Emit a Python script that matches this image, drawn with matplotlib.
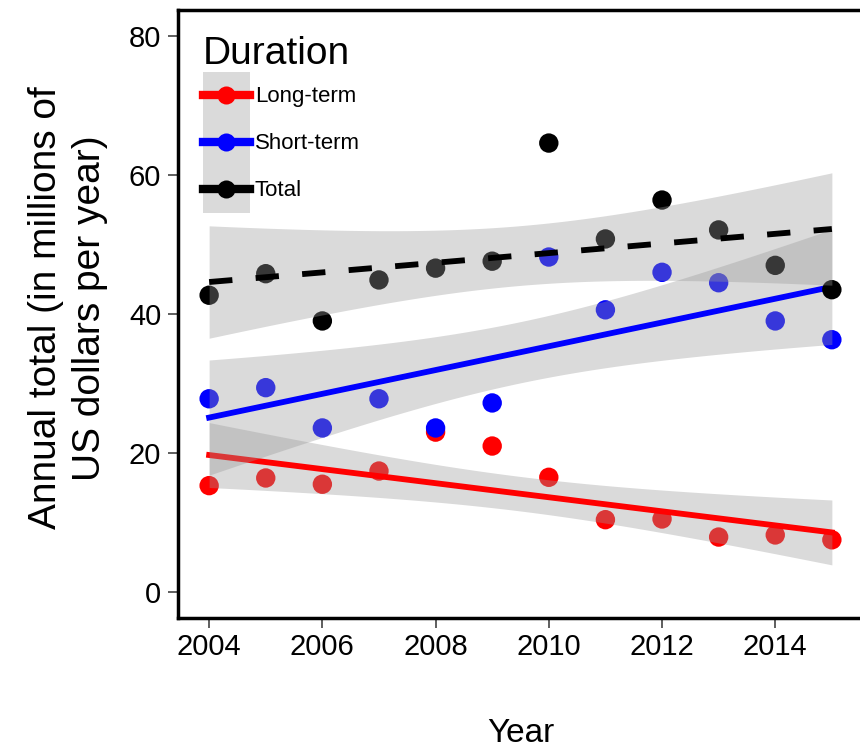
import numpy as np
import matplotlib.pyplot as plt
from matplotlib.lines import Line2D
from matplotlib.patches import Patch
from matplotlib.legend_handler import HandlerTuple, HandlerLine2D

plt.rcParams['font.family'] = ['Liberation Sans', 'DejaVu Sans']

years = [2004, 2005, 2006, 2007, 2008, 2009, 2010, 2011, 2012, 2013, 2014, 2015]
long_term = [15.3, 16.4, 15.5, 17.4, 23.0, 21.0, 16.5, 10.4, 10.5, 7.9, 8.2, 7.5]
short_term = [27.8, 29.4, 23.6, 27.8, 23.6, 27.2, 48.2, 40.6, 46.0, 44.5, 39.0, 36.3]
total = [42.7, 45.8, 39.0, 44.9, 46.6, 47.6, 64.6, 50.8, 56.4, 52.1, 47.0, 43.5]

groups = ["Long-term", "Short-term", "Total"]
colors = ["#FF0000", "#0000FF", "#000000"]
styles = ["-", "-", (0, (4, 4))]
series = [long_term, short_term, total]

T_CRIT = 2.228  # t(0.975, df=10)


def lm_band(x, y, xs):
    x = np.asarray(x, float)
    y = np.asarray(y, float)
    b, a = np.polyfit(x, y, 1)
    n = len(x)
    resid = y - (a + b * x)
    s = np.sqrt(np.sum(resid ** 2) / (n - 2))
    sxx = np.sum((x - x.mean()) ** 2)
    fit = a + b * xs
    se = s * np.sqrt(1 / n + (xs - x.mean()) ** 2 / sxx)
    return fit, fit - T_CRIT * se, fit + T_CRIT * se


class CenteredLine(HandlerLine2D):
    # put the line/marker in the middle of the key box
    def create_artists(self, legend, orig_handle, xdescent, ydescent,
                       width, height, fontsize, trans):
        return super().create_artists(legend, orig_handle, xdescent, ydescent,
                                      width, height - ydescent, fontsize, trans)


fig = plt.figure(figsize=(8.6, 7.51), dpi=100)
ax = fig.add_axes([178 / 860, 133 / 751, 685 / 860, 608 / 751])

xs = np.linspace(years[0], years[-1], 100)

# long/short points, then their smoothers, then total points + smoother
for ys, col in zip(series[:2], colors[:2]):
    ax.scatter(years, ys, s=195, color=col, edgecolors="none", zorder=2)

for i, (ys, col, ls) in enumerate(zip(series, colors, styles)):
    if i == 2:
        ax.scatter(years, ys, s=195, color=col, edgecolors="none", zorder=2)
    fit, lo, hi = lm_band(years, ys, xs)
    ax.fill_between(xs, lo, hi, color="#999999", alpha=0.36, linewidth=0, zorder=2)
    ax.plot(xs, fit, color=col, linestyle=ls, linewidth=4.2, zorder=2)

ax.set_xlim(2003.45, 2015.55)
ax.set_ylim(-3.75, 83.75)
ax.set_xticks([2004, 2006, 2008, 2010, 2012, 2014])
ax.set_yticks([0, 20, 40, 60, 80])

for sp in ax.spines.values():
    sp.set_linewidth(2.5)
ax.tick_params(axis="both", length=7, width=1.1, color="#333333",
               labelsize=21, labelcolor="black")
ax.tick_params(axis="x", pad=3.5)
ax.tick_params(axis="y", pad=5)

ax.set_xlabel("Year", fontsize=24)
ax.xaxis.set_label_coords(0.5, -0.164)
ax.set_ylabel("Annual total (in millions of\nUS dollars per year)",
              fontsize=28, linespacing=1.3)
ax.yaxis.set_label_coords(-0.102, 0.51)

handles = []
for col in colors:
    key_bg = Patch(facecolor="#999999", alpha=0.36, edgecolor="none")
    key_ln = Line2D([], [], color=col, linestyle="-", linewidth=6,
                    marker="o", markersize=13, markeredgewidth=0)
    handles.append((key_bg, key_ln))

ax.legend(handles, groups, title="Duration", title_fontsize=28, fontsize=16,
          handler_map={tuple: HandlerTuple(ndivide=1, pad=0),
                       Line2D: CenteredLine()},
          loc="upper left", bbox_to_anchor=(25 / 685, (618 - 36) / 608),
          frameon=False, borderpad=0, borderaxespad=0, labelspacing=0,
          handlelength=2.11, handleheight=2.87, handletextpad=0.22,
          numpoints=1, alignment="left")

fig.savefig("out.png", dpi=100, facecolor="white")
